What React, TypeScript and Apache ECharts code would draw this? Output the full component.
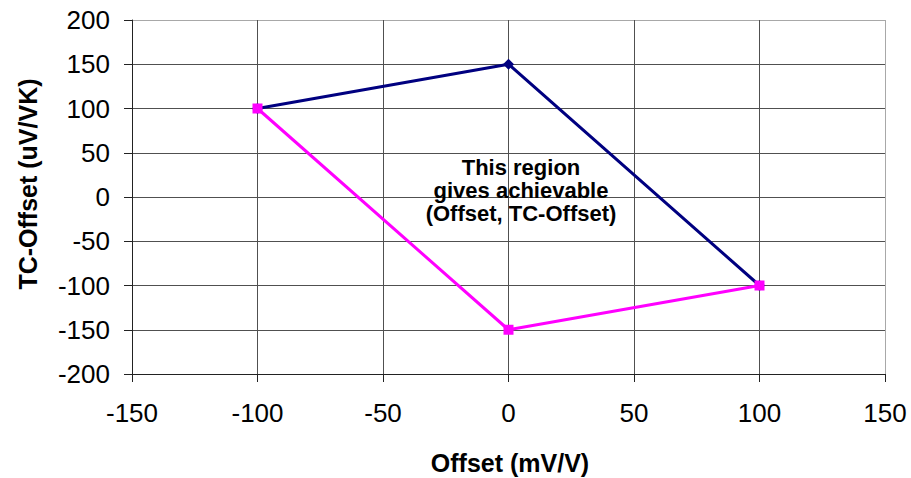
import React, { useEffect, useRef } from "react";
import * as echarts from "echarts";

const navyPoints: [number, number][] = [
  [-100, 100],
  [0, 150],
  [100, -100],
];
const magentaPoints: [number, number][] = [
  [-100, 100],
  [0, -150],
  [100, -100],
];
const xTicks = [-150, -100, -50, 0, 50, 100, 150];
const yTicks = [-200, -150, -100, -50, 0, 50, 100, 150, 200];
const xTitle = "Offset (mV/V)";
const yTitle = "TC-Offset (uV/VK)";
const noteLines = ["This region", "gives achievable", "(Offset, TC-Offset)"];

const FONT = "'Liberation Sans', Arial, Helvetica, sans-serif";

export default function App() {
  const ref = useRef<HTMLDivElement>(null);
  useEffect(() => {
    if (!ref.current) return;
    const chart = echarts.init(ref.current, undefined, { renderer: "svg" });
    const xSplit = xTicks.map((_, i) => (i === xTicks.length - 1 ? "#a8a8a8" : "#505050"));
    const ySplit = yTicks.map((_, i) => (i === yTicks.length - 1 ? "#a8a8a8" : "#505050"));
    chart.setOption({
      animation: false,
      backgroundColor: "#ffffff",
      grid: { left: 132, right: 26, top: 20, bottom: 104, containLabel: false },
      xAxis: {
        type: "value",
        min: xTicks[0],
        max: xTicks[xTicks.length - 1],
        interval: 50,
        axisLine: { show: true, onZero: false, lineStyle: { color: "#222", width: 1 } },
        axisTick: { show: true, length: 8, lineStyle: { color: "#222" } },
        axisLabel: { margin: 26, fontSize: 26, color: "#000", fontFamily: FONT },
        splitLine: { show: true, lineStyle: { color: xSplit, width: 1 } },
      },
      yAxis: {
        type: "value",
        min: yTicks[0],
        max: yTicks[yTicks.length - 1],
        interval: 50,
        axisLine: { show: true, onZero: false, lineStyle: { color: "#222", width: 1 } },
        axisTick: { show: true, length: 8, lineStyle: { color: "#222" } },
        axisLabel: { margin: 22, fontSize: 26, color: "#000", fontFamily: FONT },
        splitLine: { show: true, lineStyle: { color: ySplit, width: 1 } },
      },
      series: [
        {
          type: "line",
          data: navyPoints,
          symbol: "diamond",
          symbolSize: 11,
          lineStyle: { color: "#000080", width: 3 },
          itemStyle: { color: "#000080" },
          z: 2,
        },
        {
          type: "line",
          data: magentaPoints,
          symbol: "rect",
          symbolSize: 10,
          lineStyle: { color: "#ff00ff", width: 3 },
          itemStyle: { color: "#ff00ff" },
          z: 3,
        },
      ],
      graphic: [
        {
          type: "text",
          x: 521,
          y: 190,
          z: 10,
          style: {
            text: noteLines.join("\n"),
            align: "center",
            verticalAlign: "middle",
            font: `bold 22px ${FONT}`,
            lineHeight: 23,
            fill: "#000",
          },
        },
        {
          type: "text",
          x: 510,
          y: 463,
          style: {
            text: xTitle,
            align: "center",
            verticalAlign: "middle",
            font: `bold 25px ${FONT}`,
            fill: "#000",
          },
        },
        {
          type: "text",
          x: 28,
          y: 184,
          rotation: Math.PI / 2,
          style: {
            text: yTitle,
            align: "center",
            verticalAlign: "middle",
            font: `bold 25px ${FONT}`,
            fill: "#000",
          },
        },
      ],
    });
    return () => chart.dispose();
  }, []);
  return (
    <div
      ref={ref}
      style={{ position: "fixed", left: 0, top: 0, width: 911, height: 478 }}
    />
  );
}
